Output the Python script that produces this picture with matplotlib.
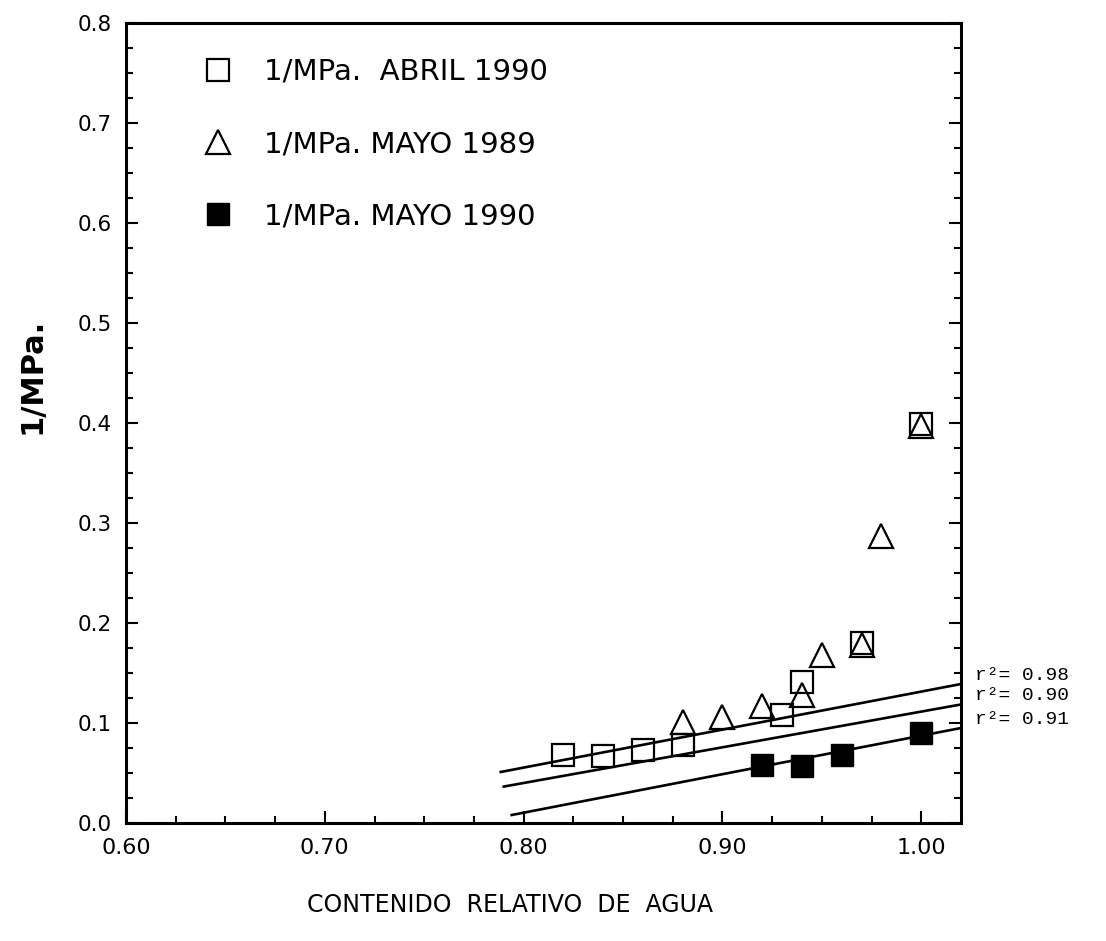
import matplotlib
matplotlib.use("Agg")
import numpy as np
import matplotlib.pyplot as plt
from matplotlib.ticker import MultipleLocator, FormatStrFormatter

plt.rcParams['font.family'] = ['DejaVu Sans']

# datos
abril90_x = [0.82, 0.84, 0.86, 0.88, 0.93, 0.94, 0.97, 1.00]
abril90_y = [0.068, 0.067, 0.073, 0.078, 0.108, 0.141, 0.180, 0.399]

mayo89_x = [0.88, 0.90, 0.92, 0.94, 0.95, 0.97, 0.98, 1.00]
mayo89_y = [0.101, 0.106, 0.117, 0.128, 0.168, 0.178, 0.287, 0.397]

mayo90_x = [0.92, 0.94, 0.96, 1.00]
mayo90_y = [0.058, 0.057, 0.068, 0.090]

# rectas de regresion (pendiente, ordenada) y r2
fit_x_start = [0.7885, 0.790, 0.794]
fit_slope = [0.380, 0.357, 0.385]
fit_icpt = [-0.2486, -0.2456, -0.2977]
fit_r2 = ['0.98', '0.90', '0.91']

series_labels = ['1/MPa.  ABRIL 1990', '1/MPa. MAYO 1989', '1/MPa. MAYO 1990']

fig = plt.figure(figsize=(11.06, 9.41), dpi=100)
ax = fig.add_axes([126 / 1106, 1 - 823 / 941, 835 / 1106, 800 / 941])

ms = 15.5
ax.plot(abril90_x, abril90_y, 's', ms=ms, mfc='none', mec='black', mew=1.6,
        label=series_labels[0], zorder=3)
ax.plot(mayo89_x, mayo89_y, '^', ms=ms + 1.5, mfc='none', mec='black', mew=1.6,
        label=series_labels[1], zorder=3)
ax.plot(mayo90_x, mayo90_y, 's', ms=ms, mfc='black', mec='black', mew=1.0,
        label=series_labels[2], zorder=3)

x_end = 1.02
for x0, m, b, r2 in zip(fit_x_start, fit_slope, fit_icpt, fit_r2):
    xs = np.array([x0, x_end])
    ax.plot(xs, m * xs + b, color='black', lw=1.9, zorder=2)
    ax.text(x_end + 0.007, m * x_end + b + 0.009, 'r\u00b2= ' + r2,
            family='Liberation Mono', fontsize=14, ha='left', va='center',
            clip_on=False)

ax.set_xlim(0.60, 1.02)
ax.set_ylim(0.0, 0.8)
ax.xaxis.set_major_locator(MultipleLocator(0.1))
ax.xaxis.set_minor_locator(MultipleLocator(0.025))
ax.yaxis.set_major_locator(MultipleLocator(0.1))
ax.yaxis.set_minor_locator(MultipleLocator(0.025))
ax.xaxis.set_major_formatter(FormatStrFormatter('%.2f'))
ax.yaxis.set_major_formatter(FormatStrFormatter('%.1f'))

ax.tick_params(which='both', direction='in', bottom=True, left=True,
               right=True, top=False, width=1.5)
ax.tick_params(which='major', length=8.5)
ax.tick_params(which='minor', length=5)
ax.tick_params(axis='x', labelsize=16, pad=11)
ax.tick_params(axis='y', labelsize=15.5, pad=10)
for s in ax.spines.values():
    s.set_linewidth(2.2)

leg = ax.legend(loc='upper left', bbox_to_anchor=(203 / 1106, 1 - 58 / 941),
                bbox_transform=fig.transFigure, frameon=False, fontsize=21,
                handlelength=1.0, handletextpad=1.1, labelspacing=1.52,
                borderpad=0, borderaxespad=0)

fig.text(32 / 1106, 1 - 376 / 941, '1/MPa.', rotation=90, ha='center',
         va='center', fontsize=22, fontweight='bold')
fig.text(510 / 1106, 1 - 905 / 941, 'CONTENIDO  RELATIVO  DE  AGUA',
         ha='center', va='center', fontsize=17)

fig.savefig('out.png', dpi=100)
